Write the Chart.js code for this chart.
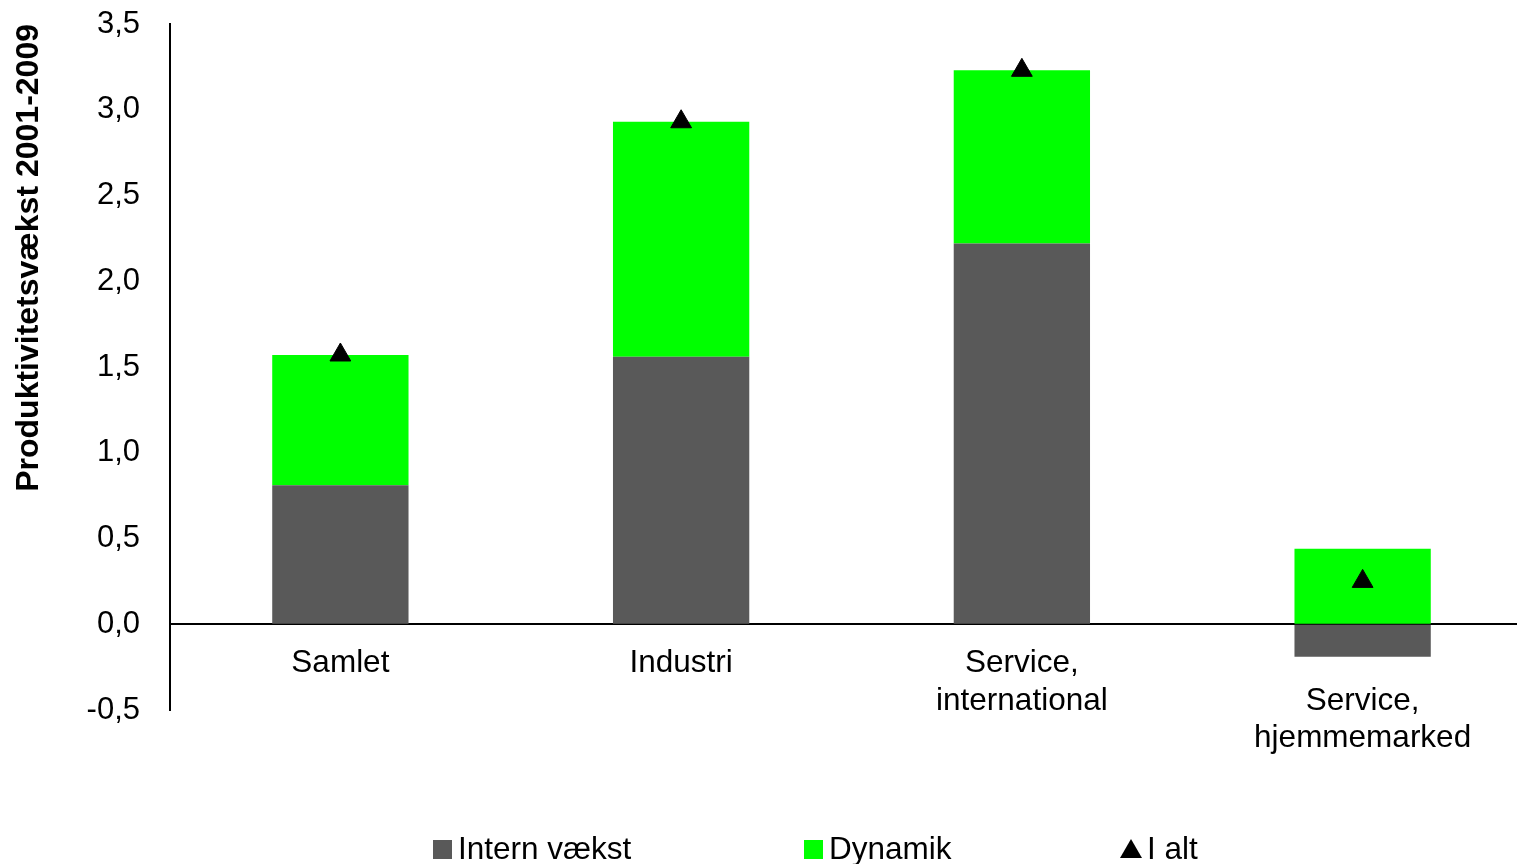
<!DOCTYPE html>
<html>
<head>
<meta charset="utf-8">
<script src="https://cdn.jsdelivr.net/npm/chart.js@4/dist/chart.umd.min.js"></script>
<style>
  html, body { margin: 0; padding: 0; background: #fff; overflow: hidden; }
  #frame { width: 1517px; height: 864px; overflow: hidden; }
  /* the plot area runs a little past the right edge of the picture */
  #wrap { position: relative; width: 1533px; height: 864px; }
</style>
</head>
<body>
<div id="frame"><div id="wrap"><canvas id="chart"></canvas></div></div>
<script>
// data
var categories = ['Samlet', 'Industri', ['Service,', 'international'], ['', 'Service,', 'hjemmemarked']];
var internVaekst = [0.81, 1.56, 2.22, -0.19];
var dynamik = [0.76, 1.37, 1.01, 0.44];
var iAlt = [1.57, 2.93, 3.23, 0.25];
var yTicks = [-0.5, 0, 0.5, 1, 1.5, 2, 2.5, 3, 3.5];

var FONT = '"Liberation Sans", Arial, sans-serif';

// legend drawn in Excel style along the bottom
var bottomLegend = {
    id: 'bottomLegend',
    afterDraw: function(chart) {
        var ctx = chart.ctx;
        var starts = [433, 804, 1120];
        ctx.save();
        ctx.font = '31.5px ' + FONT;
        ctx.textBaseline = 'middle';
        chart.data.datasets.forEach(function(ds, i) {
            var x = starts[i];
            var y = 849;
            ctx.fillStyle = ds.backgroundColor;
            if (ds.type === 'line') {
                ctx.beginPath();
                ctx.moveTo(x + 11, y - 10);
                ctx.lineTo(x + 22, y + 9);
                ctx.lineTo(x, y + 9);
                ctx.closePath();
                ctx.fill();
                x += 27;
            } else {
                ctx.fillRect(x, y - 9, 19, 19);
                x += 25;
            }
            ctx.fillStyle = '#000';
            ctx.fillText(ds.label, x, y + 1);
        });
        ctx.restore();
    }
};

var ctx = document.getElementById('chart').getContext('2d');
var chart = new Chart(ctx, {
    type: 'bar',
    data: {
        labels: categories,
        datasets: [{
            label: 'Intern vækst',
            data: internVaekst,
            backgroundColor: '#595959',
            stack: 'bars',
            order: 2
        }, {
            label: 'Dynamik',
            data: dynamik,
            backgroundColor: '#00ff00',
            stack: 'bars',
            order: 2
        }, {
            type: 'line',
            label: 'I alt',
            data: iAlt,
            stack: 'total',
            showLine: false,
            backgroundColor: '#000000',
            borderColor: '#000000',
            pointStyle: 'triangle',
            pointRadius: 12,
            pointHoverRadius: 12,
            order: 1
        }]
    },
    options: {
        responsive: true,
        maintainAspectRatio: false,
        animation: false,
        barPercentage: 0.4,
        categoryPercentage: 1,
        layout: { autoPadding: false, padding: { top: 24, bottom: 154, left: 0, right: 0 } },
        plugins: {
            legend: { display: false },
            tooltip: { enabled: false }
        },
        scales: {
            x: {
                stacked: true,
                position: { y: 0 },
                afterFit: function(scale) {
                    scale.height = 0;
                    scale.paddingLeft = 0;
                    scale.paddingRight = 0;
                },
                grid: { display: true, drawOnChartArea: false, drawTicks: false },
                border: { color: '#000', width: 2 },
                ticks: {
                    color: '#000',
                    padding: 20,
                    maxRotation: 0,
                    font: { family: FONT, size: 31.5 }
                }
            },
            y: {
                stacked: true,
                min: -0.5,
                max: 3.5,
                afterFit: function(scale) {
                    scale.width = 170;
                    scale.paddingTop = 0;
                    scale.paddingBottom = 0;
                },
                afterBuildTicks: function(scale) {
                    scale.ticks = yTicks.map(function(v) { return { value: v }; });
                },
                grid: { display: true, drawOnChartArea: false, drawTicks: false },
                border: { color: '#000', width: 2 },
                ticks: {
                    color: '#000',
                    padding: 30,
                    font: { family: FONT, size: 31 },
                    callback: function(v) { return v.toFixed(1).replace('.', ','); }
                },
                title: {
                    display: true,
                    text: 'Produktivitetsvækst 2001-2009',
                    align: 'end',
                    color: '#000',
                    padding: { top: 10, bottom: 0 },
                    font: { family: FONT, size: 32, weight: 'bold' }
                }
            }
        }
    },
    plugins: [bottomLegend]
});
</script>
</body>
</html>
